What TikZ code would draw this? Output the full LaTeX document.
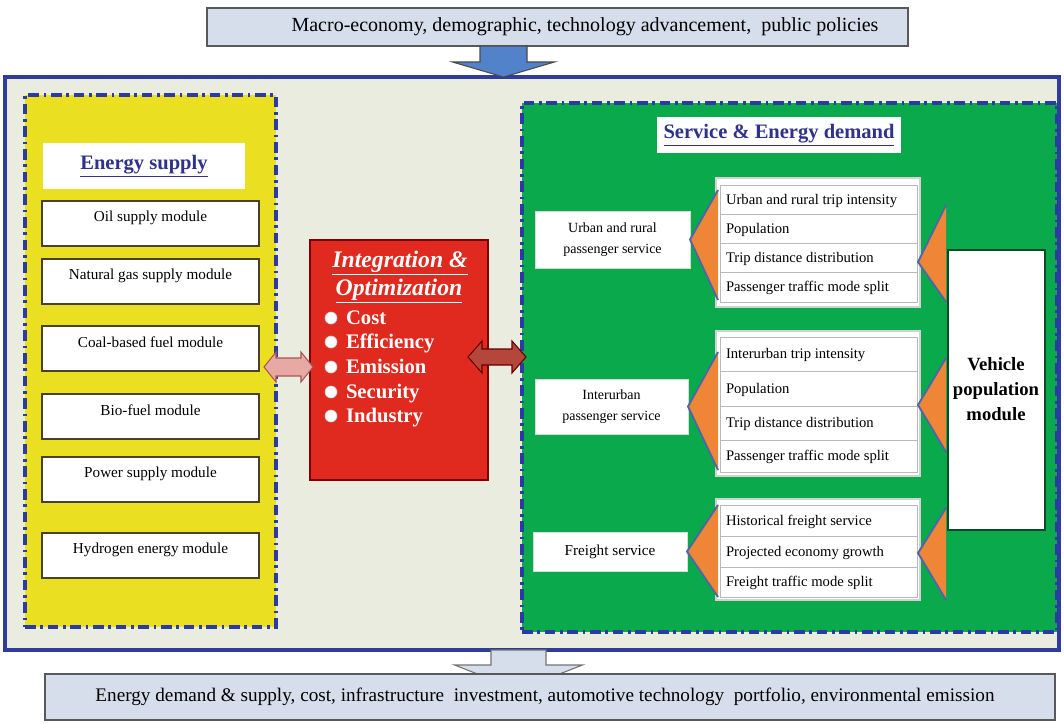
\documentclass[tikz,border=0pt]{standalone}
\usepackage{fontspec}
\setmainfont{Liberation Serif}
\usetikzlibrary{fit,calc}
\definecolor{bgc}{HTML}{E9ECDE}
\definecolor{frameblue}{HTML}{2F3C9E}
\definecolor{dashblue}{HTML}{2B3BA3}
\definecolor{yel}{HTML}{EBDF22}
\definecolor{grn}{HTML}{0AA94C}
\definecolor{redbox}{HTML}{E12A1F}
\definecolor{iofill}{HTML}{D6DEEB}
\definecolor{arrblue}{HTML}{5282C9}
\definecolor{orng}{HTML}{EF8536}
\definecolor{triedge}{HTML}{4A68A8}
\definecolor{headblue}{HTML}{2F318C}
\definecolor{modedge}{HTML}{4A4226}
\definecolor{pinkarr}{HTML}{E7A9A3}
\definecolor{darkarr}{HTML}{B4463B}
\definecolor{vehedge}{HTML}{0B4A28}
\begin{document}
\begin{tikzpicture}[x=0.75pt,y=-0.75pt,
  every node/.style={inner sep=0pt, outer sep=0pt},
  fitbox/.style={inner sep=0pt, rectangle},
  iobox/.style={fitbox, draw=black!65, fill=iofill, line width=1pt},
  dashdot/.style={draw=dashblue, line width=3pt, dash pattern=on 8pt off 3.5pt on 2pt off 3.5pt},
  modbox/.style={fitbox, draw=modedge, fill=white, line width=1.2pt},
  modtxt/.style={font=\fontsize{11.4}{13}\selectfont},
  headtxt/.style={font=\bfseries\fontsize{15.4}{18}\selectfont, text=headblue},
  svcbox/.style={fitbox, draw=gray!30, fill=white, line width=0.6pt},
  svctxt/.style={align=center, font=\fontsize{10.5}{15.5}\selectfont},
  stackbox/.style={fitbox, draw=gray!35, fill=white, line width=1pt},
  rowbox/.style={fitbox, draw=gray!55, fill=white, line width=0.7pt},
  rowtxt/.style={font=\fontsize{11}{13}\selectfont, anchor=base west},
  bultxt/.style={font=\bfseries\fontsize{15.5}{18}\selectfont, text=white, anchor=base west},
  tri/.style={fill=orng},
  triline/.style={draw=triedge, line width=1.4pt, line join=round},
]
\useasboundingbox (0,0) rectangle (1064,724);
\fill[white] (0,0) rectangle (1064,724);

% main frame
\node[fitbox, draw=frameblue, fill=bgc, line width=3pt, fit={(5,77)(1059,650)}] (frame) {};

% top input box and arrow
\node[iobox, fit={(207,8)(908,46)}] (top) {};
\node[font=\fontsize{15}{18}\selectfont] (toptxt) at (585,27) {Macro-economy, demographic, technology advancement,\ \ public policies};
\coordinate (ta) at (503.5,46);
\filldraw[fill=arrblue, draw=black!70, line width=0.8pt]
  ($(ta)+(-23.5,0)$) -- ($(ta)+(23.5,0)$) -- ($(ta)+(23.5,16)$) -- ($(ta)+(51,16)$)
  -- (ta |- frame.north) -- ($(ta)+(-51,16)$) -- ($(ta)+(-23.5,16)$) -- cycle;

% yellow energy supply panel
\node[fitbox, fill=yel, dashdot, fit={(25,95)(276,627)}] (supply) {};
\node[fitbox, fill=white, fit={(43,143)(245,189)}] (suphead) {};
\node[headtxt] (suptxt) at (suphead.center) {\underline{Energy supply}};

\foreach \n/\t/\lab in {oil/201/Oil supply module, ng/259/Natural gas supply module,
  coal/326/Coal-based fuel module, bio/394/Bio-fuel module,
  pow/457/Power supply module, hyd/533/Hydrogen energy module}{
  \node[modbox, fit={(42,\t)(259,\t+45)}] (\n) {};
  \node[modtxt] (\n t) at ($(\n.north)+(0,16.5)$) {\lab};
}

% red integration box
\node[fitbox, fill=redbox, draw=red!50!black, line width=1pt, fit={(310,240)(488,480)}] (opt) {};
\node[font=\bfseries\itshape\fontsize{17.8}{21}\selectfont, text=white] (opt1) at (400,263) {\underline{Integration \&}};
\node[font=\bfseries\itshape\fontsize{17.8}{21}\selectfont, text=white] (opt2) at (399,291) {\underline{Optimization}};
\foreach \y/\lab [count=\i] in {318/Cost, 342/Efficiency, 367/Emission, 392/Security, 416/Industry}{
  \node[circle, fill=white, draw=gray!40, line width=0.5pt, minimum size=9pt] (b\i) at (331,\y) {};
  \node[bultxt] (bt\i) at (346,\y+6.5) {\lab};
}

% green demand panel
\node[fitbox, fill=grn, dashdot, fit={(522,103)(1057,632)}] (demand) {};
\node[fitbox, fill=white, fit={(657,117)(901,153)}] (demhead) {};
\node[headtxt] (demtxt) at (demhead.center) {\underline{Service \& Energy demand}};

% service boxes
\node[svcbox, fit={(535,211)(690,268)}] (urb) {};
\node[svctxt] (urbt) at (urb.center) {Urban and rural\\passenger service};
\node[svcbox, fit={(535,379)(688,434)}] (inter) {};
\node[svctxt] (intert) at (inter.center) {Interurban\\passenger service};
\node[svcbox, fit={(533,532)(687,571)}] (frt) {};
\node[svctxt, font=\fontsize{11.4}{14}\selectfont] (frtt) at (frt.center) {Freight service};

% stacks
\node[stackbox, fit={(716,178)(920,307)}] (s1) {};
\foreach \a/\b/\lab [count=\i] in {185/214/Urban and rural trip intensity, 214/243/Population,
  243/272/Trip distance distribution, 272/302/Passenger traffic mode split}{
  \node[rowbox, fit={(720,\a)(917,\b)}] (s1r\i) {};
  \node[rowtxt] (s1t\i) at ($(s1r\i.west)+(6,4.5)$) {\lab};
}
\node[stackbox, fit={(716,331)(920,476)}] (s2) {};
\foreach \a/\b/\lab [count=\i] in {337/371/Interurban trip intensity, 371/406/Population,
  406/440/Trip distance distribution, 440/472/Passenger traffic mode split}{
  \node[rowbox, fit={(720,\a)(917,\b)}] (s2r\i) {};
  \node[rowtxt] (s2t\i) at ($(s2r\i.west)+(6,4.5)$) {\lab};
}
\node[stackbox, fit={(716,499)(920,600)}] (s3) {};
\foreach \a/\b/\lab [count=\i] in {505/536/Historical freight service, 536/567/Projected economy growth,
  567/597/Freight traffic mode split}{
  \node[rowbox, fit={(720,\a)(917,\b)}] (s3r\i) {};
  \node[rowtxt] (s3t\i) at ($(s3r\i.west)+(6,4.5)$) {\lab};
}

% vehicle population module
\node[fitbox, fill=white, draw=vehedge, line width=1.2pt, fit={(948,250)(1045,530)}] (veh) {};
\node[font=\bfseries\fontsize{14}{18.5}\selectfont, align=center] (veht) at (996,389) {Vehicle\\population\\module};

% orange triangles (stack -> service)
\fill[tri] (urb.east) -- (718,190) -- (718,300) -- cycle;
\draw[triline] (718,190) -- (urb.east) -- (718,300);
\fill[tri] (inter.east) -- (718,352) -- (718,470) -- cycle;
\draw[triline] (718,352) -- (inter.east) -- (718,470);
\fill[tri] (frt.east) -- (718,505) -- (718,597) -- cycle;
\draw[triline] (718,505) -- (frt.east) -- (718,597);
% orange triangles (vehicle -> stack)
\fill[tri] (918,262) -- (946,205) -- (946,302) -- cycle;
\draw[triline] (946,205) -- (918,262) -- (946,302);
\fill[tri] (918,405) -- (946,358) -- (946,452) -- cycle;
\draw[triline] (946,358) -- (918,405) -- (946,452);
\fill[tri] (918,553) -- (946,508) -- (946,600) -- cycle;
\draw[triline] (946,508) -- (918,553) -- (946,600);

% double arrows
\coordinate (la) at (288.5,367);
\filldraw[fill=pinkarr, draw=red!35!gray, line width=0.8pt]
  ($(la)+(-24.5,0)$) -- ($(la)+(-12.5,-15)$) -- ($(la)+(-12.5,-9)$) -- ($(la)+(12.5,-9)$)
  -- ($(la)+(12.5,-15)$) -- ($(la)+(24.5,0)$) -- ($(la)+(12.5,15)$) -- ($(la)+(12.5,9)$)
  -- ($(la)+(-12.5,9)$) -- ($(la)+(-12.5,15)$) -- cycle;
\coordinate (ra) at (497,357);
\filldraw[fill=darkarr, draw=red!40!black, line width=0.8pt]
  ($(ra)+(-29,0)$) -- ($(ra)+(-15,-16)$) -- ($(ra)+(-15,-8)$) -- ($(ra)+(15,-8)$)
  -- ($(ra)+(15,-16)$) -- ($(ra)+(29,0)$) -- ($(ra)+(15,16)$) -- ($(ra)+(15,8)$)
  -- ($(ra)+(-15,8)$) -- ($(ra)+(-15,16)$) -- cycle;

% bottom arrow and output box
\coordinate (ba) at (518.5,650);
\filldraw[fill=iofill, draw=black!55, line width=0.8pt]
  ($(ba)+(-27.5,0)$) -- ($(ba)+(27.5,0)$) -- ($(ba)+(27.5,15)$) -- ($(ba)+(64,15)$)
  -- ($(ba)+(0,40)$) -- ($(ba)+(-64,15)$) -- ($(ba)+(-27.5,15)$) -- cycle;
\node[iobox, fit={(45,674)(1055,720)}] (bot) {};
\node[font=\fontsize{14.4}{17}\selectfont] (bottxt) at (545,697) {Energy demand \& supply, cost, infrastructure\ \ investment, automotive technology\ \ portfolio, environmental emission};
\end{tikzpicture}
\end{document}
